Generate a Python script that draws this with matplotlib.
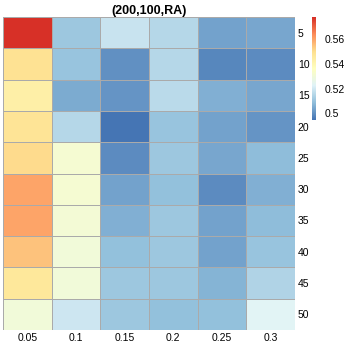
import matplotlib.pyplot as plt
import matplotlib.colors as mcolors
import numpy as np

# columns / rows of the heatmap
col_labels = ['0.05', '0.1', '0.15', '0.2', '0.25', '0.3']
row_labels = ['5', '10', '15', '20', '25', '30', '35', '40', '45', '50']

row_5 = [0.578, 0.511, 0.518, 0.515, 0.503, 0.504]
row_10 = [0.549, 0.510, 0.500, 0.515, 0.498, 0.4996]
row_15 = [0.543, 0.505, 0.501, 0.516, 0.506, 0.5046]
row_20 = [0.548, 0.515, 0.4946, 0.510, 0.503, 0.5005]
row_25 = [0.551, 0.532, 0.4996, 0.511, 0.5046, 0.508]
row_30 = [0.560, 0.532, 0.503, 0.509, 0.4988, 0.506]
row_35 = [0.560, 0.531, 0.506, 0.5105, 0.503, 0.508]
row_40 = [0.555, 0.530, 0.509, 0.5105, 0.503, 0.510]
row_45 = [0.547, 0.530, 0.5105, 0.511, 0.507, 0.5146]
row_50 = [0.530, 0.519, 0.511, 0.509, 0.5096, 0.523]

cbar_ticks = [0.5, 0.52, 0.54, 0.56]

values = np.array([row_5, row_10, row_15, row_20, row_25,
                   row_30, row_35, row_40, row_45, row_50])

# pheatmap default palette: reversed RdYlBu (7) ramped to 100 colours
stops = ['#4575B4', '#91BFDB', '#E0F3F8', '#FFFFBF', '#FEE090', '#FC8D59', '#D73027']
cmap = mcolors.LinearSegmentedColormap.from_list('pheat', stops, N=100)
vmin, vmax = values.min(), values.max()

W = H = 345.0
fig = plt.figure(figsize=(3.45, 3.45), dpi=100)
plt.rcParams['font.family'] = ['Liberation Sans', 'DejaVu Sans']

ax = fig.add_axes([3 / W, (H - 330) / H, 292 / W, 313 / H])
ax.pcolormesh(values, cmap=cmap, vmin=vmin, vmax=vmax,
              edgecolor='#AAAAAA', linewidth=0.5)
ax.set_xlim(0, len(col_labels))
ax.set_ylim(len(row_labels), 0)
for s in ax.spines.values():
    s.set_visible(False)
ax.set_xticks(np.arange(len(col_labels)) + 0.5)
ax.set_xticklabels(col_labels, fontsize=7.5)
ax.set_yticks(np.arange(len(row_labels)) + 0.5)
ax.set_yticklabels(row_labels, fontsize=7.5)
ax.yaxis.tick_right()
ax.tick_params(length=0, pad=2)
ax.set_title('(200,100,RA)', fontsize=9, fontweight='bold', pad=2)

cax = fig.add_axes([312 / W, (H - 120) / H, 4 / W, 103 / H])
grad = np.linspace(vmin, vmax, 100).reshape(-1, 1)
cax.imshow(grad, aspect='auto', cmap=cmap, vmin=vmin, vmax=vmax,
           origin='lower', extent=[0, 1, vmin, vmax])
cax.set_xticks([])
cax.yaxis.tick_right()
cax.set_yticks(cbar_ticks)
cax.set_yticklabels(['0.5', '0.52', '0.54', '0.56'], fontsize=7.5)
cax.tick_params(length=0, pad=6)
for s in cax.spines.values():
    s.set_visible(False)

fig.savefig('out.png', dpi=100, facecolor='white')
